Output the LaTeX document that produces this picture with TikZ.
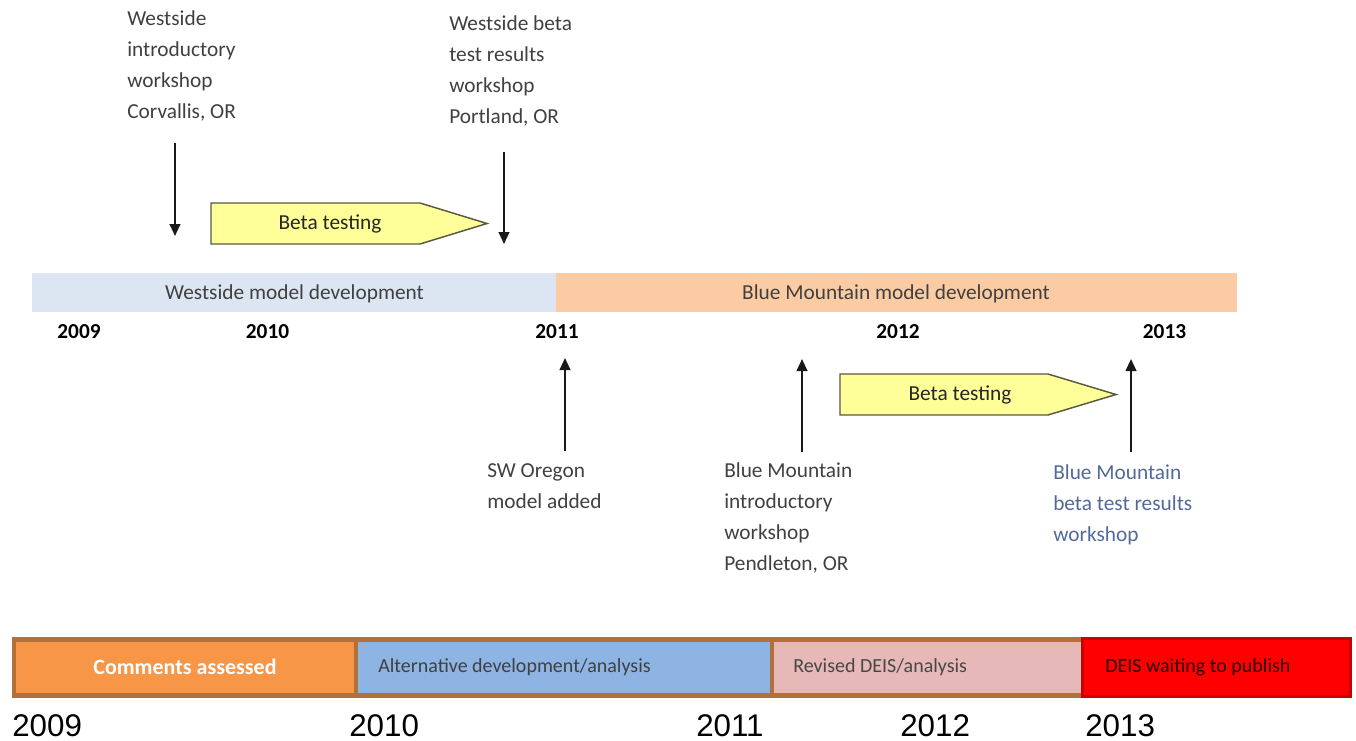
\documentclass[tikz,border=0pt]{standalone}
\usepackage{fontspec}
\setmainfont{Carlito}
\newfontfamily\arialf{Liberation Sans}
\usetikzlibrary{arrows.meta}
\definecolor{westblue}{HTML}{DCE6F2}
\definecolor{bmorange}{HTML}{FBCCA3}
\definecolor{betafill}{HTML}{FFFF99}
\definecolor{betaline}{HTML}{595940}
\definecolor{labelgray}{HTML}{404040}
\definecolor{bluelabel}{HTML}{53699A}
\definecolor{segorange}{HTML}{F79646}
\definecolor{segblue}{HTML}{8DB4E2}
\definecolor{segpink}{HTML}{E6B8B7}
\definecolor{segred}{HTML}{FF0000}
\definecolor{segredline}{HTML}{C80000}
\definecolor{barbrown}{HTML}{B4703A}
\begin{document}
\begin{tikzpicture}[x=0.75pt,y=-0.75pt,
  lbl/.style={anchor=north west, inner sep=0pt, align=left, text=labelgray,
    font=\fontsize{16pt}{23.25pt}\selectfont},
  yearb/.style={anchor=base, inner sep=0pt, font=\fontsize{16pt}{19pt}\selectfont\bfseries},
  bartxt/.style={anchor=base, inner sep=0pt, text=labelgray, font=\fontsize{16pt}{19pt}\selectfont},
  betashape/.style={fill=betafill, draw=betaline, line width=1.1pt, line join=miter},
  betatxt/.style={inner sep=0pt, text=black!85, font=\fontsize{16pt}{19pt}\selectfont},
  evarrow/.style={draw=black!90, line width=1.5pt, -{Triangle[length=9pt,width=8pt]}},
  segtxt/.style={anchor=base west, inner sep=0pt, font=\fontsize{15pt}{18pt}\selectfont},
  yearbig/.style={anchor=base west, inner sep=0pt, font=\arialf\fontsize{23.5pt}{27pt}\selectfont}
]
\path[use as bounding box] (0,0) rectangle (1356,740);

% top labels
\node[lbl] (lbl1) at (127,10) {\vphantom{l}Westside\\introductory\\workshop\\Corvallis, OR};
\node[lbl] (lbl2) at (449,15) {\vphantom{l}Westside beta\\test results\\workshop\\Portland, OR};

% down arrows
\coordinate (a1s) at (175,143); \coordinate (a1e) at (175,236);
\coordinate (a2s) at (504,152); \coordinate (a2e) at (504,244);
\draw[evarrow] (a1s) -- (a1e);
\draw[evarrow] (a2s) -- (a2e);

% beta testing 1
\draw[betashape] (211,203) -- (420,203) -- (487,223.5) -- (420,244) -- (211,244) -- cycle;
\node[betatxt] (beta1) at (330,223.5) {Beta testing};

% timeline bar
\fill[westblue] (32,273) rectangle (556,312);
\fill[bmorange] (556,273) rectangle (1237,312);
\node[bartxt] (wdev) at (294.5,299) {Westside model development};
\node[bartxt] (bdev) at (896,299) {Blue Mountain model development};

% years
\node[yearb] (y2009) at (79,338) {2009};
\node[yearb] (y2010) at (267.5,338) {2010};
\node[yearb] (y2011) at (557,338) {2011};
\node[yearb] (y2012) at (898,338) {2012};
\node[yearb] (y2013) at (1164.5,338) {2013};

% up arrows
\coordinate (a3s) at (565,451); \coordinate (a3e) at (565,358);
\coordinate (a4s) at (802,452); \coordinate (a4e) at (802,359);
\coordinate (a5s) at (1131,452); \coordinate (a5e) at (1131,359);
\draw[evarrow] (a3s) -- (a3e);
\draw[evarrow] (a4s) -- (a4e);
\draw[evarrow] (a5s) -- (a5e);

% beta testing 2
\draw[betashape] (840,374) -- (1048,374) -- (1116,394.5) -- (1048,415) -- (840,415) -- cycle;
\node[betatxt] (beta2) at (960,394.5) {Beta testing};

% lower labels
\node[lbl] (swo) at (487,462) {\vphantom{l}SW Oregon\\model added};
\node[lbl] (bm1) at (724,462) {\vphantom{l}Blue Mountain\\introductory\\workshop\\Pendleton, OR};
\node[lbl, text=bluelabel] (bm2) at (1053,464) {\vphantom{l}Blue Mountain\\beta test results\\workshop};

% bottom bar
\fill[barbrown] (12,637) rectangle (1082,698);
\fill[segorange] (16,642) rectangle (354,693);
\fill[segblue] (358,642) rectangle (770,693);
\fill[segpink] (774,642) rectangle (1082,693);
\fill[segred] (1081,637) rectangle (1352,698);
\draw[segredline, line width=2.2pt] (1082.5,638.5) rectangle (1350.5,696.5);

\node[anchor=base, inner sep=0pt, text=white, font=\fontsize{16.5pt}{19pt}\selectfont\bfseries] (seg1) at (185,674) {Comments assessed};
\node[segtxt, text=black!75] (seg2) at (378,672) {Alternative development/analysis};
\node[segtxt, text=black!72] (seg3) at (793,672) {Revised DEIS/analysis};
\node[segtxt, text=black!85!red] (seg4) at (1105,672) {DEIS waiting to publish};

% bottom years
\node[yearbig] (b2009) at (12,736) {2009};
\node[yearbig] (b2010) at (349,736) {2010};
\node[yearbig] (b2011) at (696,736) {2011};
\node[yearbig] (b2012) at (900,736) {2012};
\node[yearbig] (b2013) at (1085,736) {2013};
\end{tikzpicture}
\end{document}
